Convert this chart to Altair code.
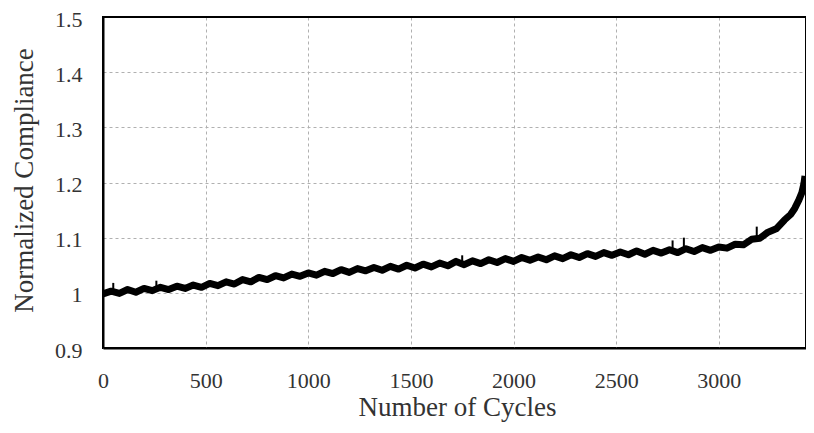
import altair as alt
import pandas as pd

cycles = [0, 40, 80, 120, 160, 200, 240, 280, 320, 360, 400, 440, 480, 520, 560, 600,
          640, 680, 720, 760, 800, 840, 880, 920, 960, 1000, 1040, 1080, 1120, 1160, 1200,
          1240, 1280, 1320, 1360, 1400, 1440, 1480, 1520, 1560, 1600, 1640, 1680, 1720,
          1760, 1800, 1840, 1880, 1920, 1960, 2000, 2040, 2080, 2120, 2160, 2200, 2240,
          2280, 2320, 2360, 2400, 2440, 2480, 2520, 2560, 2600, 2640, 2680, 2720, 2760,
          2800, 2840, 2880, 2920, 2960, 3000, 3040, 3080, 3120, 3160, 3200, 3240, 3280,
          3320, 3350, 3370, 3390, 3405, 3415, 3420]
compliance = [0.998, 1.003, 0.999, 1.006, 1.001, 1.008, 1.004, 1.010, 1.006, 1.012, 1.008,
              1.014, 1.010, 1.017, 1.013, 1.020, 1.016, 1.024, 1.020, 1.028, 1.024, 1.031,
              1.027, 1.034, 1.030, 1.036, 1.032, 1.039, 1.035, 1.042, 1.037, 1.044, 1.040,
              1.046, 1.041, 1.048, 1.043, 1.050, 1.045, 1.052, 1.047, 1.054, 1.049, 1.057,
              1.051, 1.058, 1.053, 1.060, 1.055, 1.062, 1.057, 1.064, 1.059, 1.065, 1.060,
              1.067, 1.062, 1.069, 1.064, 1.071, 1.066, 1.073, 1.068, 1.074, 1.069, 1.076,
              1.070, 1.077, 1.072, 1.078, 1.073, 1.080, 1.075, 1.082, 1.077, 1.083, 1.081,
              1.088, 1.087, 1.097, 1.099, 1.110, 1.116, 1.132, 1.142, 1.153, 1.168, 1.182,
              1.198, 1.212]

spike_cycles = [50, 260, 1750, 2775, 2830, 3185]
spike_low = [1.000, 1.006, 1.053, 1.075, 1.077, 1.098]
spike_high = [1.018, 1.022, 1.068, 1.095, 1.100, 1.120]

x_ticks = [0, 500, 1000, 1500, 2000, 2500, 3000]
y_ticks = [0.9, 1.0, 1.1, 1.2, 1.3, 1.4, 1.5]
x_max = 3425
y_min, y_max = 0.9, 1.5

df = pd.DataFrame({"cycles": cycles, "compliance": compliance})
sp = pd.DataFrame({"cycles": spike_cycles, "lo": spike_low, "hi": spike_high})
frame = pd.DataFrame({"x0": [0, x_max], "x1": [x_max, x_max],
                      "y0": [y_max, y_min], "y1": [y_max, y_max]})

FONT = "Liberation Serif"
W = 703

xscale = alt.Scale(domain=[0, x_max], nice=False, zero=False)
yscale = alt.Scale(domain=[y_min, y_max], nice=False, zero=False)

xaxis = alt.Axis(values=x_ticks, format="d", title="Number of Cycles", grid=True,
                 gridDash=[3, 3], gridColor="#b0b0b0", gridWidth=1,
                 domainColor="black", domainWidth=2, tickSize=0,
                 labelFont=FONT, labelFontSize=22, labelColor="#333333",
                 labelPadding=22, labelBaseline="top", labelFlush=False,
                 titleFont=FONT, titleFontSize=27, titleFontWeight="normal",
                 titleColor="#333333", titleBaseline="alphabetic", titleY=67,
                 titleX=354, titleAlign="center")
yaxis = alt.Axis(values=y_ticks, format=".1~f", title="Normalized Compliance", grid=True,
                 gridDash=[3, 3], gridColor="#b0b0b0", gridWidth=1,
                 domainColor="black", domainWidth=2, tickSize=0,
                 labelFont=FONT, labelFontSize=22, labelColor="#333333",
                 labelPadding=21, labelFlush=False, labelOffset=2,
                 titleFont=FONT, titleFontSize=27, titleFontWeight="normal",
                 titleColor="#333333", titleAngle=-90, titleBaseline="middle",
                 titleAlign="center", titleX=-79, titleY=163)

line = alt.Chart(df).mark_line(color="black", strokeWidth=7, strokeJoin="round").encode(
    x=alt.X("cycles:Q", scale=xscale, axis=xaxis),
    y=alt.Y("compliance:Q", scale=yscale, axis=yaxis),
)
spikes = alt.Chart(sp).mark_rule(color="black", strokeWidth=2).encode(
    x=alt.X("cycles:Q", scale=xscale),
    y=alt.Y("lo:Q", scale=yscale),
    y2="hi:Q",
)
border = alt.Chart(frame).mark_rule(color="black", strokeWidth=2).encode(
    x=alt.X("x0:Q", scale=xscale),
    x2="x1:Q",
    y=alt.Y("y0:Q", scale=yscale),
    y2="y1:Q",
)

chart = (line + spikes + border).properties(
    width=W, height=331,
    autosize=alt.AutoSizeParams(type="none"),
    padding={"left": 95, "top": 9, "right": 0, "bottom": 76},
).configure_view(stroke="black", strokeWidth=2)

chart.save("out.html", embed_options={"renderer": "svg", "actions": False})
